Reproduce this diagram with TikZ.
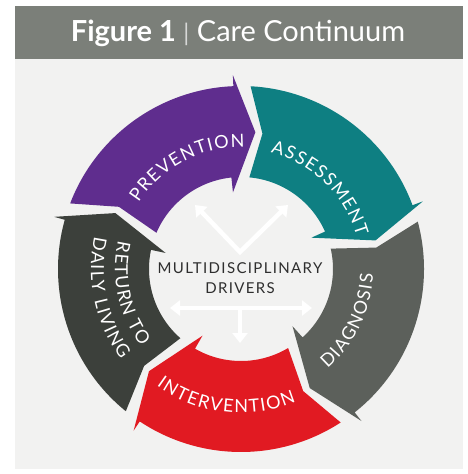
\documentclass[tikz,border=0pt]{standalone}
\usepackage{fontspec}
\setmainfont{Lato}
\newfontfamily\labfont{Lato}
\newfontfamily\midfont[LetterSpace=9]{Lato}
\usetikzlibrary{decorations.text,arrows.meta}
\definecolor{hdr}{RGB}{123,127,121}
\definecolor{panel}{RGB}{242,242,241}
\definecolor{cpurple}{RGB}{95,45,142}
\definecolor{cteal}{RGB}{14,127,130}
\definecolor{cgray}{RGB}{92,96,91}
\definecolor{cred}{RGB}{225,26,34}
\definecolor{cdark}{RGB}{60,64,59}
\definecolor{ctext}{RGB}{46,46,46}
\newcommand\CareSeg[2]{%
  \fill[#2] ({#1}:183pt) arc[start angle={#1}, end angle={#1-66.6}, radius=183pt]
    -- ({#1-66.6}:194pt) -- ({#1-75}:137.5pt) -- ({#1-63}:77pt) -- ({#1-63}:92pt)
    arc[start angle={#1-63}, end angle={#1-2.2}, radius=92pt]
    -- ({#1-6}:137pt) -- cycle;}
\tikzset{
  lab/.style={decorate, decoration={text along path, text align=center,
      text color=white, text={|\labfont\fontsize{18}{20}\selectfont\kern1.4pt|#1}}},
  wa/.style={draw=white, line width=4.5pt},
  tipw/.tip={Triangle[length=10pt, width=15pt]}
}
\begin{document}
\begin{tikzpicture}[x=1pt,y=1pt]
\useasboundingbox (0,0) rectangle (467,-474);
\fill[white] (0,0) rectangle (467,-474);
\fill[panel] (15,-6) rectangle (463,-469);
\fill[hdr] (15,-6) rectangle (463,-59);
\node[text=white, font=\fontsize{29}{32}\selectfont, inner sep=0pt] (title) at (238,-33)
  {\textbf{Figure 1} {\color{white!70!hdr}\fontsize{24}{26}\selectfont|} Care Continuum};
\begin{scope}[shift={(241,-269)}]
  \CareSeg{159}{cpurple}
  \CareSeg{87}{cteal}
  \CareSeg{15}{cgray}
  \CareSeg{-57}{cred}
  \CareSeg{-129}{cdark}
  \path[lab=PREVENTION] (158:122pt) arc[start angle=158, end angle=78, radius=122pt];
  \path[lab=ASSESSMENT] (86:120pt) arc[start angle=86, end angle=6, radius=120pt];
  \path[lab=DIAGNOSIS] (-71:132pt) arc[start angle=-71, end angle=19, radius=132pt];
  \path[lab=INTERVENTION] (-152:144pt) arc[start angle=-152, end angle=-42, radius=144pt];
  \path[lab={RETURN TO}] (147:126pt) arc[start angle=147, end angle=237, radius=126pt];
  \path[lab={DAILY LIVING}] (147:150pt) arc[start angle=147, end angle=237, radius=150pt];
\end{scope}
\coordinate (v) at (240,-252);
\coordinate (ul) at (195,-205);
\coordinate (ur) at (288,-205);
\coordinate (hl) at (170,-308);
\coordinate (hr) at (312,-308);
\coordinate (hm) at (240,-308);
\coordinate (vb) at (240,-343);
\draw[wa, line join=miter, tipw-tipw] (ul) -- (v) -- (ur);
\draw[wa, tipw-tipw] (hl) -- (hr);
\draw[wa, -tipw] (hm) -- (vb);
\node[font=\midfont\fontsize{15}{20}\selectfont, text=ctext, align=center, inner sep=0pt] (drivers) at (240,-278)
  {MULTIDISCIPLINARY\\DRIVERS};
\end{tikzpicture}
\end{document}
